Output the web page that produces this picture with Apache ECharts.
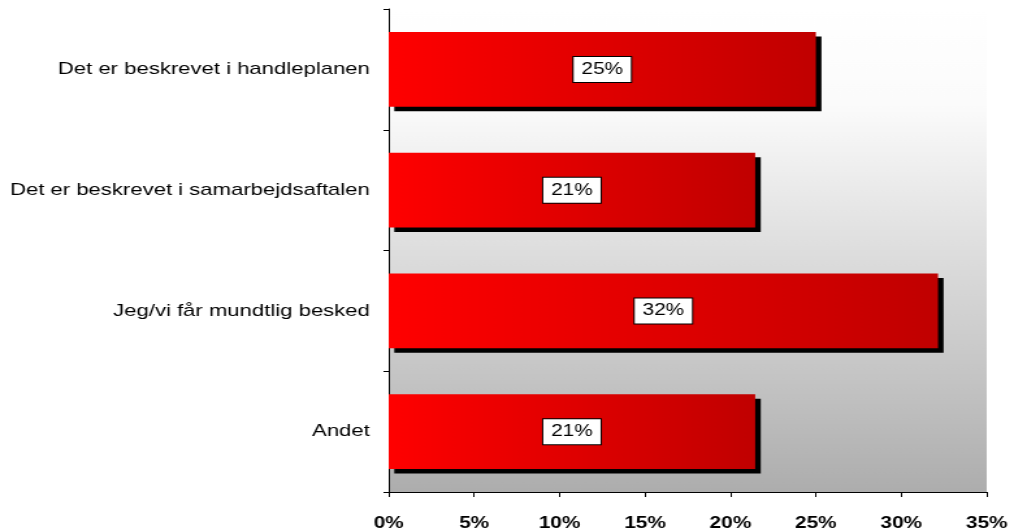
<!DOCTYPE html>
<html>
<head>
<meta charset="utf-8">
<script src="https://cdn.jsdelivr.net/npm/echarts@6/dist/echarts.min.js"></script>
<style>
  html, body { margin: 0; padding: 0; background: #ffffff; overflow: hidden; }
  /* originalen er strakt vandret ca. 1.3x - tegn smallere og stræk */
  #chart { width: 778px; height: 532px; transform: scaleX(1.3); transform-origin: 0 0; }
</style>
</head>
<body>
<div id="chart"></div>
<script>
  // svar-kategorier og andele (%)
  let categories = ['Det er beskrevet i handleplanen', 'Det er beskrevet i samarbejdsaftalen', 'Jeg/vi får mundtlig besked', 'Andet'];
  let values = [25.0, 21.45, 32.15, 21.45];
  let xTicks = [0, 5, 10, 15, 20, 25, 30, 35];

  let myChart = echarts.init(document.getElementById('chart'));
  myChart.setOption({
    animation: false,
    textStyle: {fontFamily: 'Liberation Sans, Arial, sans-serif'},
    grid: {
      left: 299,
      right: 18,
      top: 9,
      bottom: 40,
      show: true,
      borderWidth: 0,
      backgroundColor: {
        type: 'linear', x: 0, y: 0, x2: 0, y2: 1,
        colorStops: [
          {offset: 0, color: '#ffffff'},
          {offset: 0.2, color: '#fbfbfb'},
          {offset: 1, color: '#adadad'}
        ]
      }
    },
    xAxis: {
      type: 'value',
      min: xTicks[0],
      max: xTicks[xTicks.length - 1],
      interval: 5,
      splitLine: {show: false},
      axisLine: {show: true, lineStyle: {color: '#000', width: 1}},
      axisTick: {show: true, length: 5, lineStyle: {color: '#000'}},
      axisLabel: {
        formatter: '{value}%',
        color: '#000',
        fontSize: 16,
        fontWeight: 'bold',
        margin: 24
      }
    },
    yAxis: {
      type: 'category',
      inverse: true,
      data: categories,
      axisLine: {show: true, lineStyle: {color: '#000', width: 1}},
      axisTick: {show: true, length: 4, lineStyle: {color: '#000'}},
      axisLabel: {color: '#000', fontSize: 17, margin: 14.5}
    },
    series: [
      {
        type: 'bar',
        data: values,
        barCategoryGap: '38%',
        itemStyle: {
          color: {
            type: 'linear', x: 0, y: 0, x2: 1, y2: 0,
            colorStops: [
              {offset: 0, color: '#ff0000'},
              {offset: 1, color: '#c00000'}
            ]
          },
          borderWidth: 0,
          shadowColor: '#000',
          shadowBlur: 0,
          shadowOffsetX: 4.3,
          shadowOffsetY: 4.5
        },
        label: {
          show: true,
          position: 'inside',
          formatter: function (p) { return Math.round(p.value) + '%'; },
          color: '#000',
          fontSize: 16,
          lineHeight: 18,
          backgroundColor: '#fff',
          borderColor: '#000',
          borderWidth: 1,
          padding: [4, 6, 3, 6]
        }
      }
    ]
  });
</script>
</body>
</html>
